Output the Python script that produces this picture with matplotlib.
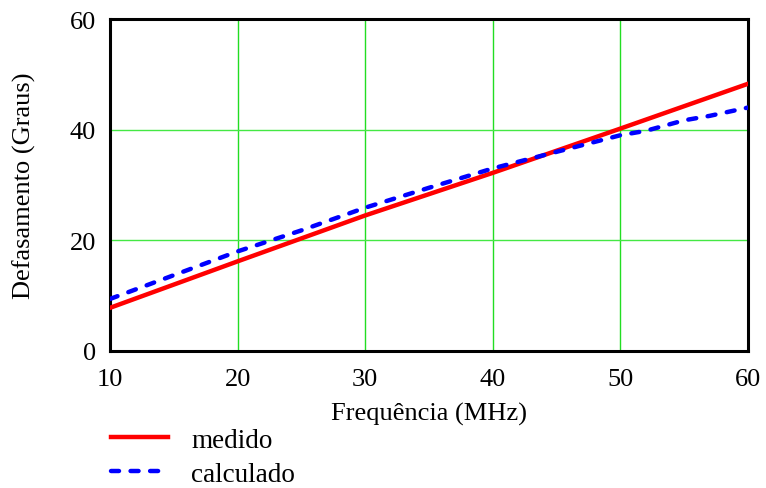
import numpy as np
import matplotlib.pyplot as plt

plt.rcParams["font.family"] = ["Liberation Serif", "DejaVu Serif"]

# frequência (MHz) e defasamento (graus)
freq_medido = [10, 20, 30, 40, 50, 60]
fase_medido = [7.8, 16.2, 24.5, 32.2, 40.2, 48.3]

freq_calc = [10, 15, 20, 25, 30, 35, 40, 45, 50, 52, 55, 57, 60]
fase_calc = [9.4, 13.7, 18.0, 21.8, 25.9, 29.5, 33.0, 36.0, 39.0, 39.8, 41.7, 42.5, 44.0]

x_ticks = [10, 20, 30, 40, 50, 60]
y_ticks = [0, 20, 40, 60]

fig = plt.figure(figsize=(7.66, 4.89), dpi=100)
ax = fig.add_axes([0.1436, 0.2802, 0.8329, 0.6788])

for xv in x_ticks[1:]:
    ax.axvline(xv, color="#22dd22", linewidth=1.0, zorder=1)
for yv in y_ticks[1:-1]:
    ax.axhline(yv, color="#44e844", linewidth=1.0, zorder=1)

ax.plot(freq_medido, fase_medido, color="#ff0000", linewidth=3.2,
        label="medido", zorder=3)
ax.plot(freq_calc, fase_calc, color="#0000ff", linewidth=3.2,
        linestyle=(0, (1.8, 2.6)), dash_capstyle="round",
        label="calculado", zorder=4)

ax.set_xlim(10, 60)
ax.set_ylim(0, 60)
ax.set_xticks(x_ticks)
ax.set_yticks(y_ticks)
ax.tick_params(length=0, labelsize=19)
ax.tick_params(axis="x", pad=12)
ax.tick_params(axis="y", pad=10)
for s in ax.spines.values():
    s.set_linewidth(2.2)
    s.set_color("black")

ax.set_xlabel("Frequência (MHz)", fontsize=19, labelpad=9)
ax.set_ylabel("Defasamento (Graus)", fontsize=19, labelpad=24)

fig.legend(loc="upper left", bbox_to_anchor=(0.131, 0.145),
           frameon=False, fontsize=19.5, handlelength=2.1,
           handletextpad=0.85, labelspacing=0.32, borderaxespad=0)

fig.savefig("out.png", dpi=100)
